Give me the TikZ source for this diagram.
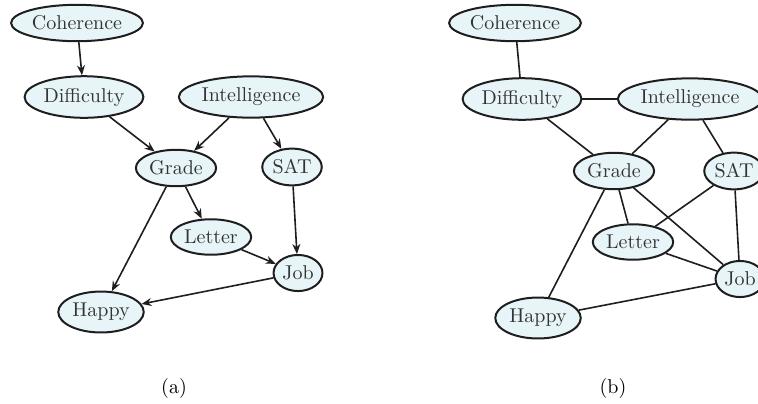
\documentclass[tikz,border=0pt]{standalone}
\usepackage{xcolor}
\usepackage{tikz}
\usetikzlibrary{shapes.geometric, arrows.meta}
\definecolor{mydark}{RGB}{30,30,30}
\definecolor{nodeblue}{RGB}{231,244,248}
\tikzset{
  varnode/.style={ellipse, draw=mydark, fill=nodeblue, line width=1pt,
    inner xsep=0.8pt, inner ysep=2.8pt, font=\normalsize, text=black!80},
  dirarrow/.style={-{Stealth[length=5pt, width=4pt]}, line width=0.8pt, color=mydark},
  undirline/.style={line width=0.8pt, color=mydark},
  caption/.style={font=\normalsize}
}
\begin{document}
\begin{tikzpicture}[x=0.5pt, y=-0.5pt]
  \useasboundingbox (0,0) rectangle (758,403);

  % (a) directed model
  \node[varnode] (coh_a) at (77,23) {Coherence};
  \node[varnode] (dif_a) at (84,97) {Difficulty};
  \node[varnode] (int_a) at (251,97) {Intelligence};
  \node[varnode] (gra_a) at (176,168) {Grade};
  \node[varnode] (sat_a) at (292,167) {SAT};
  \node[varnode] (let_a) at (211,237) {Letter};
  \node[varnode] (job_a) at (298,273) {Job};
  \node[varnode] (hap_a) at (101,312) {Happy};
  \node[caption] (lab_a) at (174,388) {(a)};

  \draw[dirarrow] (coh_a) -- (dif_a);
  \draw[dirarrow] (dif_a) -- (gra_a);
  \draw[dirarrow] (int_a) -- (gra_a);
  \draw[dirarrow] (int_a) -- (sat_a);
  \draw[dirarrow] (gra_a) -- (let_a);
  \draw[dirarrow] (gra_a) -- (hap_a);
  \draw[dirarrow] (sat_a) -- (job_a);
  \draw[dirarrow] (let_a) -- (job_a);
  \draw[dirarrow] (job_a) -- (hap_a);

  % (b) moralized graph
  \node[varnode] (coh_b) at (515,23) {Coherence};
  \node[varnode] (dif_b) at (522,99) {Difficulty};
  \node[varnode] (int_b) at (690,99) {Intelligence};
  \node[varnode] (gra_b) at (614,171) {Grade};
  \node[varnode] (sat_b) at (734,171) {SAT};
  \node[varnode] (let_b) at (633,242) {Letter};
  \node[varnode] (job_b) at (740,279) {Job};
  \node[varnode] (hap_b) at (538,318) {Happy};
  \node[caption] (lab_b) at (613,388) {(b)};

  \draw[undirline] (coh_b) -- (dif_b);
  \draw[undirline] (dif_b) -- (int_b);
  \draw[undirline] (dif_b) -- (gra_b);
  \draw[undirline] (int_b) -- (gra_b);
  \draw[undirline] (int_b) -- (sat_b);
  \draw[undirline] (gra_b) -- (let_b);
  \draw[undirline] (gra_b) -- (hap_b);
  \draw[undirline] (gra_b) -- (job_b);
  \draw[undirline] (sat_b) -- (let_b);
  \draw[undirline] (sat_b) -- (job_b);
  \draw[undirline] (let_b) -- (job_b);
  \draw[undirline] (job_b) -- (hap_b);
\end{tikzpicture}
\end{document}
